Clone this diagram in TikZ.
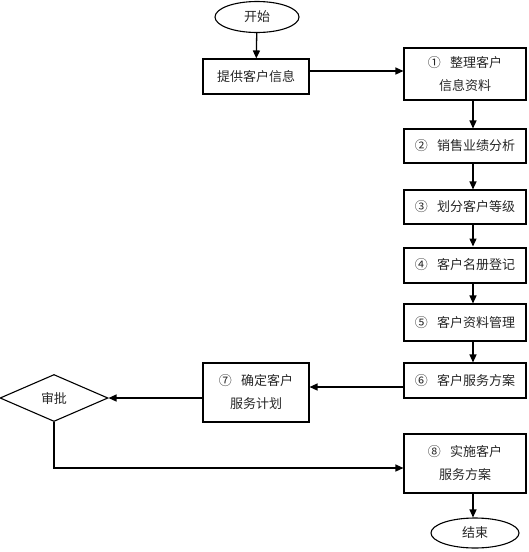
\documentclass[tikz,border=0pt]{standalone}
\usepackage{fontspec}
\setmainfont{Noto Sans CJK SC}
\usetikzlibrary{shapes.geometric,arrows.meta}
\newcommand{\numgap}{\hspace{0.7em}}
\begin{document}
\begin{tikzpicture}[x=1pt,y=-1pt,
  every node/.style={font=\fontsize{13}{23}\selectfont, inner sep=0pt, align=center, text=black!85},
  box/.style={draw, line width=1.1pt, minimum width=106pt, minimum height=35pt},
  rbox/.style={box, minimum width=122pt},
  term/.style={draw, line width=1.1pt, ellipse, minimum width=84pt, minimum height=31pt},
  arr/.style={-{Triangle[length=8pt,width=7pt]}, line width=1.3pt}]
\useasboundingbox (0,0) rectangle (528,552);
\node[term] (start) at (257,17) {开始};
\node[box] (info) at (256,76.5) {提供客户信息};
\node[rbox, minimum height=52pt] (b1) at (465,74) {①\numgap 整理客户\\信息资料};
\node[rbox, minimum height=34pt] (b2) at (465,146) {②\numgap 销售业绩分析};
\node[rbox, minimum height=34pt] (b3) at (465,207) {③\numgap 划分客户等级};
\node[rbox, minimum height=35pt, line width=2pt] (b4) at (465,265) {④\numgap 客户名册登记};
\node[rbox, minimum height=37pt] (b5) at (465,322.5) {⑤\numgap 客户资料管理};
\node[rbox, minimum height=35pt] (b6) at (465,380.5) {⑥\numgap 客户服务方案};
\node[box, minimum height=59pt] (b7) at (256,392.5) {⑦\numgap 确定客户\\服务计划};
\node[draw, line width=1.1pt, diamond, aspect=2.3, minimum width=108pt, minimum height=47pt] (appr) at (54,398) {审批};
\node[rbox, minimum height=59pt] (b8) at (465,463.5) {⑧\numgap 实施客户\\服务方案};
\node[term, minimum width=88pt, minimum height=30pt] (end) at (475,533) {结束};
\draw[arr] (start) -- (info);
\draw[arr] (info.east |- 0,71) -- (b1.west |- 0,71);
\draw[arr] (b1.south -| 473,0) -- (b2.north -| 473,0);
\draw[arr] (b2.south -| 473,0) -- (b3.north -| 473,0);
\draw[arr] (b3.south -| 473,0) -- (b4.north -| 473,0);
\draw[arr] (b4.south -| 473,0) -- (b5.north -| 473,0);
\draw[arr] (b5.south -| 473,0) -- (b6.north -| 473,0);
\draw[arr] (b6.west |- 0,387) -- (b7.east |- 0,387);
\draw[arr] (b7.west |- appr) -- (appr.east);
\draw[arr] (appr.south) -- (appr.south |- 0,468) -- (b8.west |- 0,468);
\draw[arr] (b8.south -| 473,0) -- (end.north -| 473,0);
\end{tikzpicture}
\end{document}
